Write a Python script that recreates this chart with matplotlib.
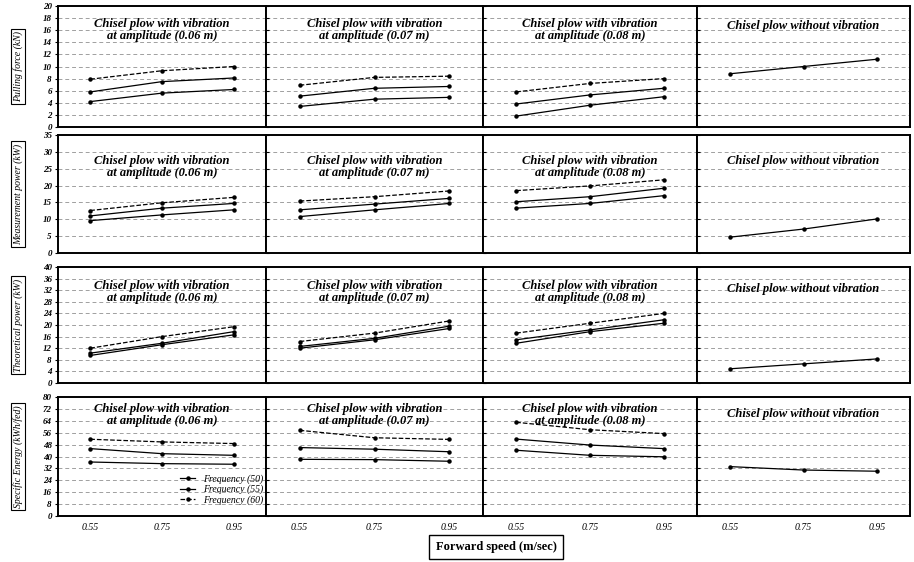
import matplotlib.pyplot as plt
import numpy as np

plt.rcParams['font.family'] = ['Liberation Serif', 'DejaVu Serif']

speed = [0.55, 0.75, 0.95]
speed_labels = ['0.55', '0.75', '0.95']
freqs = ['Frequency (50)', 'Frequency (55)', 'Frequency (60)']

titles = ['Chisel plow with vibration\nat amplitude (0.06 m)',
          'Chisel plow with vibration\nat amplitude (0.07 m)',
          'Chisel plow with vibration\nat amplitude (0.08 m)',
          'Chisel plow without vibration']

ylabels = ['Pulling force (kN)', 'Measurement power (kW)',
           'Theoretical power (kW)', 'Specific Energy (kWh/fed)']

ymax = [20, 35, 40, 80]
ystep = [2, 5, 4, 8]

# pulling force (kN): freq 50, 55, 60 for each amplitude
force_006 = [[4.2, 5.6, 6.2], [5.8, 7.5, 8.1], [7.9, 9.3, 10.0]]
force_007 = [[3.4, 4.6, 4.9], [5.1, 6.4, 6.7], [6.9, 8.2, 8.4]]
force_008 = [[1.8, 3.6, 5.0], [3.8, 5.3, 6.4], [5.8, 7.2, 8.0]]
force_none = [8.8, 10.0, 11.2]

# measured power (kW)
meas_006 = [[9.6, 11.3, 12.8], [11.0, 13.3, 14.7], [12.6, 14.9, 16.5]]
meas_007 = [[10.8, 12.8, 14.7], [12.8, 14.5, 16.2], [15.4, 16.7, 18.4]]
meas_008 = [[13.3, 14.7, 17.0], [15.2, 16.7, 19.2], [18.5, 19.9, 21.7]]
meas_none = [4.7, 7.1, 10.1]

# theoretical power (kW)
theo_006 = [[9.5, 13.2, 16.6], [10.3, 13.7, 17.7], [12.0, 16.0, 19.4]]
theo_007 = [[12.0, 14.9, 18.8], [12.6, 15.4, 19.6], [14.3, 17.2, 21.4]]
theo_008 = [[13.7, 17.7, 20.6], [14.9, 18.3, 21.8], [17.2, 20.6, 24.0]]
theo_none = [4.9, 6.6, 8.3]

# specific energy (kWh/fed)
energy_006 = [[36.3, 35.2, 34.8], [45.3, 41.9, 40.8], [51.6, 49.8, 48.7]]
energy_007 = [[38.1, 37.9, 36.8], [46.0, 44.9, 43.2], [57.6, 52.6, 51.5]]
energy_008 = [[44.2, 40.8, 39.8], [51.7, 47.7, 45.3], [63.0, 58.0, 55.4]]
energy_none = [33.2, 30.9, 30.1]

rows = [
    [force_006, force_007, force_008, force_none],
    [meas_006, meas_007, meas_008, meas_none],
    [theo_006, theo_007, theo_008, theo_none],
    [energy_006, energy_007, energy_008, energy_none],
]

W, H = 914, 562
fig = plt.figure(figsize=(W / 100, H / 100), dpi=100)

col_edges = [58, 266, 483, 697, 910]
row_spans = [(6, 127), (135, 253), (267, 383), (397, 516)]
# title centre, in pixels below the top of each panel
title_off = [24, 32, 25, 18]
title_off_single = [20, 26, 22, 17]
styles = ['-', '-', '--']

for r, (top, bot) in enumerate(row_spans):
    h = bot - top
    for c in range(4):
        x0, x1 = col_edges[c], col_edges[c + 1]
        ax = fig.add_axes([x0 / W, 1 - bot / H, (x1 - x0) / W, h / H])
        ax.set_xlim(0.46, 1.04)
        ax.set_ylim(0, ymax[r])
        ticks = np.arange(0, ymax[r] + 0.1, ystep[r])
        ax.set_yticks(ticks)
        for t in ticks[1:-1]:
            ax.axhline(t, color='#a0a0a0', lw=0.7, ls=(0, (4, 3)), zorder=0)
        data = rows[r][c]
        if c < 3:
            for k in range(3):
                ax.plot(speed, data[k], color='black', lw=0.9, ls=styles[k],
                        marker='o', ms=2.2, label=freqs[k])
            ty = 1 - title_off[r] / h
        else:
            ax.plot(speed, data, color='black', lw=0.9, marker='o', ms=2.2)
            ty = 1 - title_off_single[r] / h
        ax.text(0.5, ty, titles[c], transform=ax.transAxes, ha='center', va='center',
                fontsize=9, fontweight='bold', style='italic', linespacing=1.0)
        for s in ax.spines.values():
            s.set_linewidth(1.4)
        ax.tick_params(axis='both', length=2.5, width=0.8, direction='in')
        if c == 0:
            ax.set_yticklabels([str(int(t)) for t in ticks], fontsize=6.5,
                               style='italic', fontweight='bold')
            ax.tick_params(axis='y', direction='out', pad=2)
        else:
            ax.set_yticklabels([])
        ax.set_xticks(speed)
        if r == 3:
            ax.set_xticklabels(speed_labels, fontsize=7, style='italic')
            ax.tick_params(axis='x', length=0, pad=5)
        else:
            ax.set_xticklabels([])
            ax.tick_params(axis='x', length=0)
        if r == 3 and c == 0:
            ax.legend(loc='lower right', frameon=False,
                      handlelength=1.6, labelspacing=0.1,
                      prop={'style': 'italic', 'size': 7},
                      bbox_to_anchor=(1.03, 0.02))
    fig.text(18 / W, 1 - (top + bot) / 2 / H, ylabels[r], rotation=90,
             ha='center', va='center', fontsize=7, style='italic',
             bbox=dict(boxstyle='square,pad=0.2', fc='white', ec='black', lw=0.8))

fig.text(496 / W, 1 - 547 / H, 'Forward speed (m/sec)', ha='center', va='center',
         fontsize=9, fontweight='bold',
         bbox=dict(boxstyle='square,pad=0.5', fc='white', ec='black', lw=1))

fig.savefig('out.png', dpi=100)
